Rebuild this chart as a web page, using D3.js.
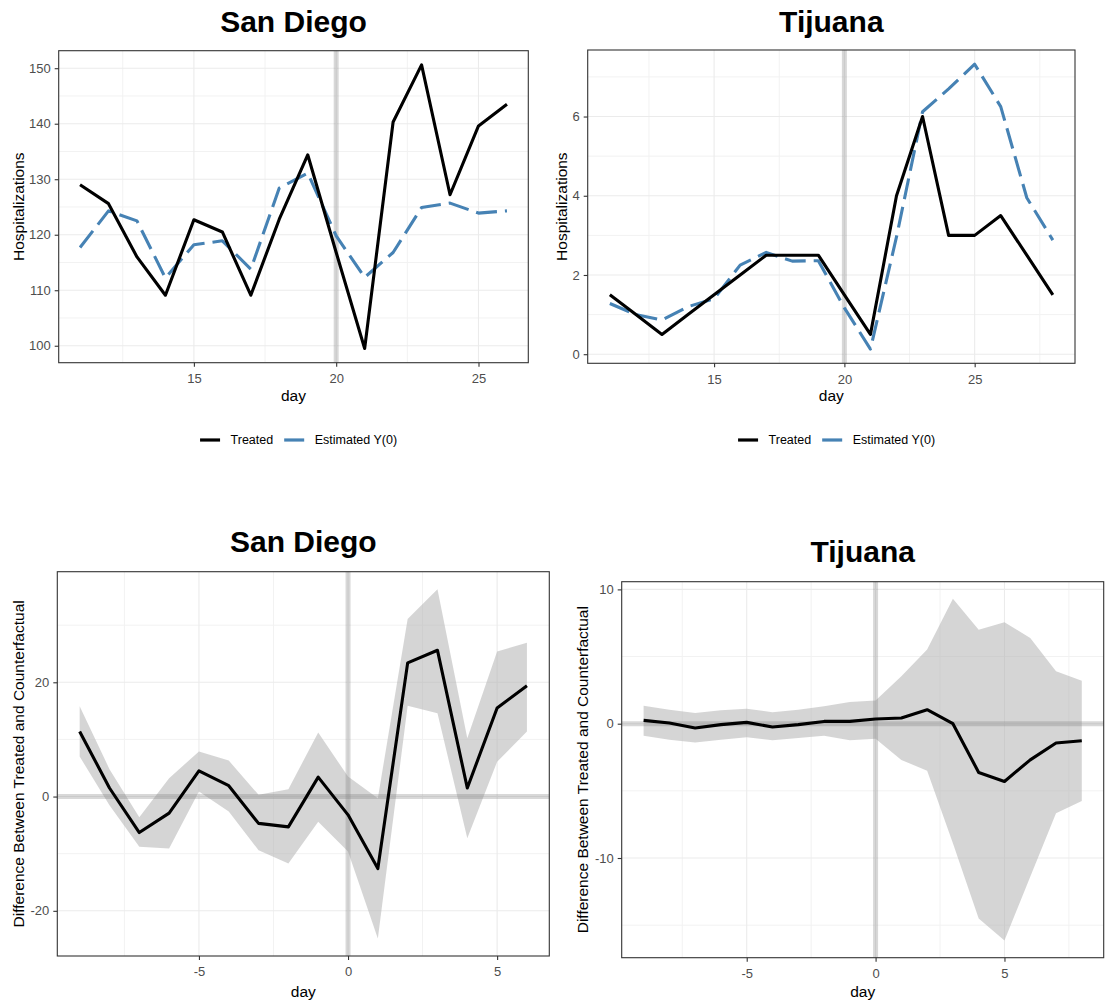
<!DOCTYPE html>
<html>
<head>
<meta charset="utf-8">
<script src="https://cdn.jsdelivr.net/npm/d3@7"></script>
<style>
  body { margin: 0; background: #fff; }
  svg { display: block; }
  text { font-family: "Liberation Sans", Arial, sans-serif; }
</style>
</head>
<body>
<svg id="chart" width="1107" height="1008"></svg>
<script>
// ---- San Diego: observed vs. synthetic control, days 11–26 ----
const sdDays = d3.range(11, 27);
const sdTreated   = [129.0, 125.6, 116.0, 109.1, 122.7, 120.5, 109.1, 122.8, 134.4, 116.8, 99.5, 140.3, 150.6, 127.2, 139.6, 143.5];
const sdEstimated = [117.7, 124.3, 122.5, 112.2, 118.2, 118.9, 113.8, 128.4, 131.1, 119.8, 112.3, 116.8, 124.9, 125.7, 123.9, 124.3];

// ---- Tijuana: observed vs. synthetic control, days 11–28 ----
const tjDays = d3.range(11, 29);
const tjTreated   = [1.5, 1.0, 0.5, 1.0, 1.5, 2.0, 2.5, 2.5, 2.5, 1.5, 0.5, 4.0, 6.0, 3.0, 3.0, 3.5, 2.5, 1.5];
const tjEstimated = [1.28, 1.0, 0.86, 1.2, 1.4, 2.25, 2.57, 2.35, 2.36, 1.17, 0.13, 2.96, 6.12, 6.7, 7.32, 6.25, 3.95, 2.88];

// ---- San Diego: gap (treated − counterfactual) with interval, days −9..6 ----
const sdGapDays = d3.range(-9, 7);
const sdGap   = [11.4, 1.5, -6.3, -2.9, 4.5, 1.9, -4.7, -5.3, 3.4, -3.2, -12.6, 23.4, 25.6, 1.5, 15.5, 19.4];
const sdUpper = [15.8, 4.8, -3.6, 3.2, 7.9, 6.3, 0.3, 1.3, 11.2, 3.5, -0.3, 31.1, 36.3, 10.2, 25.4, 26.9];
const sdLower = [7.0, -1.5, -8.8, -9.1, 0.9, -2.6, -9.4, -11.7, -4.4, -9.6, -24.85, 15.9, 14.6, -7.3, 6.1, 11.4];

// ---- Tijuana: gap (treated − counterfactual) with interval, days −9..8 ----
const tjGapDays = d3.range(-9, 9);
const tjGap   = [0.25, 0.05, -0.32, -0.07, 0.1, -0.25, -0.07, 0.17, 0.17, 0.35, 0.42, 1.04, 0.0, -3.63, -4.3, -2.69, -1.44, -1.27];
const tjUpper = [1.34, 1.04, 0.8, 1.0, 1.12, 0.85, 1.04, 1.29, 1.62, 1.72, 3.53, 5.52, 9.3, 7.0, 7.56, 6.39, 3.9, 3.2];
const tjLower = [-0.9, -1.2, -1.4, -1.2, -1.0, -1.24, -1.07, -0.9, -1.24, -1.12, -2.7, -3.5, -8.9, -14.5, -16.15, -11.4, -6.67, -5.75];

// ---- Axis breaks and labels ----
const seriesNames = ["Treated", "Estimated Y(0)"];
const seriesColors = ["#000000", "#4682B4"];
const topXTicks = [15, 20, 25];
const sdYTicks = [100, 110, 120, 130, 140, 150];
const tjYTicks = [0, 2, 4, 6];
const gapXTicks = [-5, 0, 5];
const sdGapYTicks = [-20, 0, 20];
const tjGapYTicks = [-10, 0, 10];
const interventionDay = 20;

const svg = d3.select("#chart");

// plain integer labels with an ASCII hyphen for negatives
const intLabel = d => String(Math.round(d));

// ggplot-style continuous expansion: 5% of the data range on each side
function expanded(values) {
  const [lo, hi] = d3.extent(values);
  const pad = (hi - lo) * 0.05;
  return [lo - pad, hi + pad];
}

// midpoints between consecutive major breaks, extended one step each way
function minorBreaks(major, domain) {
  const step = major[1] - major[0];
  const out = [];
  for (let v = major[0] - step / 2; v <= major[major.length - 1] + step; v += step) {
    if (v >= domain[0] && v <= domain[1]) out.push(v);
  }
  return out;
}

function panel(cfg) {
  const { box, xDomain, yDomain, xTicks, yTicks } = cfg;
  const x = d3.scaleLinear().domain(xDomain).range([box.x0, box.x1]);
  const y = d3.scaleLinear().domain(yDomain).range([box.y1, box.y0]);
  const g = svg.append("g");
  const clipId = "clip" + Math.round(box.x0) + "_" + Math.round(box.y0);
  svg.append("clipPath").attr("id", clipId)
    .append("rect").attr("x", box.x0).attr("y", box.y0)
    .attr("width", box.x1 - box.x0).attr("height", box.y1 - box.y0);

  const grid = g.append("g");
  const xMinor = minorBreaks(xTicks, x.domain());
  const yMinor = minorBreaks(yTicks, y.domain());
  grid.selectAll(".xm").data(xMinor).join("line")
    .attr("x1", d => x(d)).attr("x2", d => x(d)).attr("y1", box.y0).attr("y2", box.y1)
    .attr("stroke", "#F2F2F2").attr("stroke-width", 1);
  grid.selectAll(".ym").data(yMinor).join("line")
    .attr("y1", d => y(d)).attr("y2", d => y(d)).attr("x1", box.x0).attr("x2", box.x1)
    .attr("stroke", "#F2F2F2").attr("stroke-width", 1);
  grid.selectAll(".xM").data(xTicks).join("line")
    .attr("x1", d => x(d)).attr("x2", d => x(d)).attr("y1", box.y0).attr("y2", box.y1)
    .attr("stroke", "#EBEBEB").attr("stroke-width", 1.1);
  grid.selectAll(".yM").data(yTicks).join("line")
    .attr("y1", d => y(d)).attr("y2", d => y(d)).attr("x1", box.x0).attr("x2", box.x1)
    .attr("stroke", "#EBEBEB").attr("stroke-width", 1.1);

  const plot = g.append("g").attr("clip-path", `url(#${clipId})`);

  // axes
  const xAxis = d3.axisBottom(x).tickValues(xTicks).tickSize(4).tickPadding(4).tickFormat(intLabel);
  const yAxis = d3.axisLeft(y).tickValues(yTicks).tickSize(4).tickPadding(4).tickFormat(intLabel);
  const gx = g.append("g").attr("transform", `translate(0,${box.y1})`).call(xAxis);
  const gy = g.append("g").attr("transform", `translate(${box.x0},0)`).call(yAxis);
  [gx, gy].forEach(a => {
    a.select(".domain").remove();
    a.selectAll(".tick line").attr("stroke", "#333333").attr("stroke-width", 1.1);
    a.selectAll(".tick text").attr("fill", "#4D4D4D").style("font-size", "13px")
      .style("font-family", '"Liberation Sans", Arial, sans-serif');
  });
  gx.selectAll(".tick text").attr("dy", "0.95em");

  // axis titles
  g.append("text").attr("x", (box.x0 + box.x1) / 2).attr("y", cfg.xLabelY)
    .attr("text-anchor", "middle").attr("dominant-baseline", "central")
    .style("font-size", "15.5px").attr("fill", "#000").text("day");
  g.append("text")
    .attr("transform", `translate(${cfg.yLabelX},${(box.y0 + box.y1) / 2}) rotate(-90)`)
    .attr("text-anchor", "middle").attr("dominant-baseline", "central")
    .style("font-size", "15.5px").attr("fill", "#000").text(cfg.yLabel);

  // title
  g.append("text").attr("x", (box.x0 + box.x1) / 2).attr("y", cfg.titleY)
    .attr("text-anchor", "middle").style("font-size", "30px").style("font-weight", "bold")
    .attr("fill", "#000").text(cfg.title);

  return { x, y, plot, g, box };
}

function border(p) {
  p.g.append("rect").attr("x", p.box.x0).attr("y", p.box.y0)
    .attr("width", p.box.x1 - p.box.x0).attr("height", p.box.y1 - p.box.y0)
    .attr("fill", "none").attr("stroke", "#333333").attr("stroke-width", 1.1);
}

function refLineV(p, v) {
  p.plot.append("line").attr("x1", p.x(v)).attr("x2", p.x(v))
    .attr("y1", p.box.y0).attr("y2", p.box.y1)
    .attr("stroke", "#7F7F7F").attr("stroke-opacity", 0.3).attr("stroke-width", 5);
}
function refLineH(p, v) {
  p.plot.append("line").attr("y1", p.y(v)).attr("y2", p.y(v))
    .attr("x1", p.box.x0).attr("x2", p.box.x1)
    .attr("stroke", "#7F7F7F").attr("stroke-opacity", 0.3).attr("stroke-width", 5);
}

function drawSeries(p, days, values, color, dashed) {
  const line = d3.line().x((d, i) => p.x(days[i])).y(d => p.y(d));
  p.plot.append("path").datum(values).attr("d", line)
    .attr("fill", "none").attr("stroke", color).attr("stroke-width", 3.1)
    .attr("stroke-linejoin", "round")
    .attr("stroke-dasharray", dashed ? "21,8" : null);
}

function legend(cx, cy) {
  const lg = svg.append("g");
  let cursor = 0;
  seriesNames.forEach((name, i) => {
    lg.append("line").attr("x1", cursor).attr("x2", cursor + 20)
      .attr("y1", cy).attr("y2", cy).attr("stroke", seriesColors[i]).attr("stroke-width", 3.2);
    cursor += 30.5;
    const t = lg.append("text").attr("x", cursor).attr("y", cy).attr("dominant-baseline", "central")
      .style("font-size", "12.5px").attr("fill", "#000").text(name);
    cursor += t.node().getComputedTextLength() + 11;
  });
  const total = cursor - 11;
  lg.attr("transform", `translate(${cx - total / 2},0)`);
}

// ---------- Top left: San Diego levels ----------
{
  const p = panel({
    box: { x0: 58.7, x1: 528.3, y0: 50.7, y1: 362.7 },
    xDomain: expanded(sdDays), yDomain: expanded(sdTreated.concat(sdEstimated)),
    xTicks: topXTicks, yTicks: sdYTicks,
    xLabelY: 395, yLabelX: 18, yLabel: "Hospitalizations",
    title: "San Diego", titleY: 31.7
  });
  refLineV(p, interventionDay);
  drawSeries(p, sdDays, sdEstimated, seriesColors[1], true);
  drawSeries(p, sdDays, sdTreated, seriesColors[0], false);
  border(p);
  legend(298.6, 440);
}

// ---------- Top right: Tijuana levels ----------
{
  const p = panel({
    box: { x0: 587.7, x1: 1075, y0: 50, y1: 363.3 },
    xDomain: expanded(tjDays), yDomain: expanded(tjTreated.concat(tjEstimated)),
    xTicks: topXTicks, yTicks: tjYTicks,
    xLabelY: 395, yLabelX: 561, yLabel: "Hospitalizations",
    title: "Tijuana", titleY: 31.7
  });
  refLineV(p, interventionDay);
  drawSeries(p, tjDays, tjEstimated, seriesColors[1], true);
  drawSeries(p, tjDays, tjTreated, seriesColors[0], false);
  border(p);
  legend(836.6, 440);
}

function gapPanel(cfg, days, gap, lower, upper) {
  const p = panel(Object.assign(cfg, {
    xDomain: expanded(days), yDomain: expanded(lower.concat(upper, gap))
  }));
  const area = d3.area().x((d, i) => p.x(days[i])).y0((d, i) => p.y(lower[i])).y1(d => p.y(d));
  p.plot.append("path").datum(upper).attr("d", area)
    .attr("fill", "#B3B3B3").attr("fill-opacity", 0.55);
  refLineH(p, 0);
  refLineV(p, 0);
  drawSeries(p, days, gap, "#000000", false);
  border(p);
}

// ---------- Bottom left: San Diego gap ----------
gapPanel({
  box: { x0: 57.3, x1: 549.3, y0: 571.7, y1: 956 },
  xTicks: gapXTicks, yTicks: sdGapYTicks,
  xLabelY: 991.7, yLabelX: 18, yLabel: "Difference Between Treated and Counterfactual",
  title: "San Diego", titleY: 552.3
}, sdGapDays, sdGap, sdLower, sdUpper);

// ---------- Bottom right: Tijuana gap ----------
gapPanel({
  box: { x0: 621.7, x1: 1103.7, y0: 581.7, y1: 957.7 },
  xTicks: gapXTicks, yTicks: tjGapYTicks,
  xLabelY: 991.7, yLabelX: 582, yLabel: "Difference Between Treated and Counterfactual",
  title: "Tijuana", titleY: 562.3
}, tjGapDays, tjGap, tjLower, tjUpper);
</script>
</body>
</html>
